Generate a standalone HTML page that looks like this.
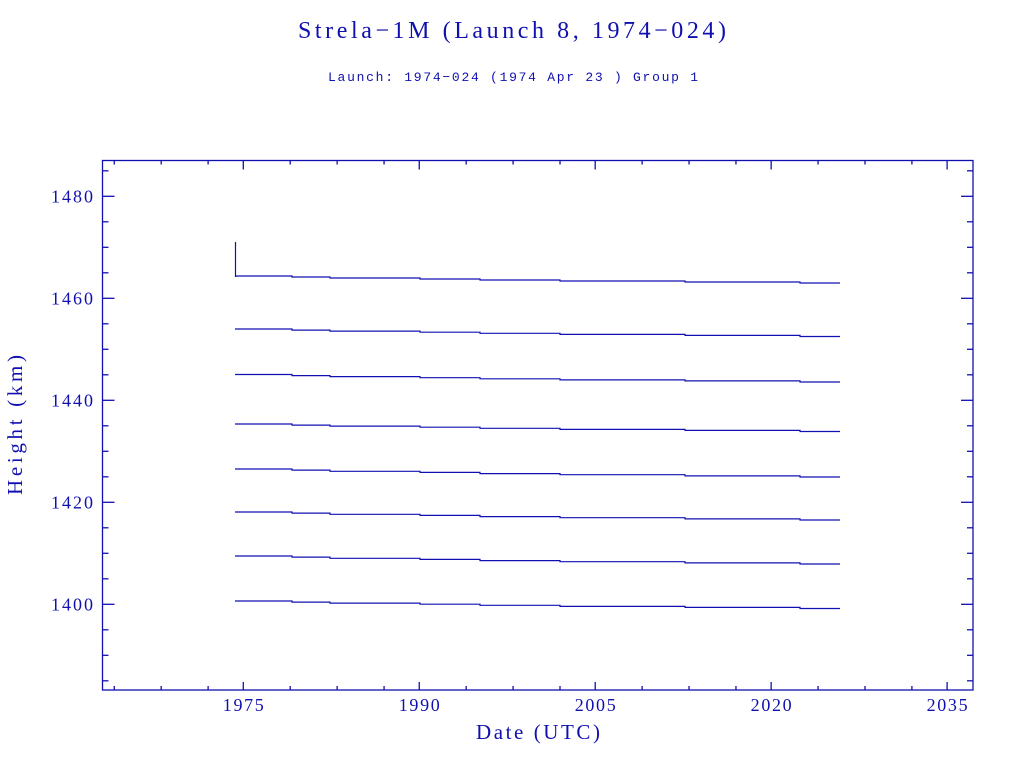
<!DOCTYPE html>
<html><head><meta charset="utf-8"><style>
body{margin:0;background:#fff;width:1024px;height:768px;overflow:hidden}
svg{display:block}
text{fill:#1010b0}
</style></head><body>
<svg id="s" width="1024" height="768" xmlns="http://www.w3.org/2000/svg">
<text x="512" y="38" text-anchor="middle" font-family="Liberation Serif, serif" font-size="24" textLength="428">Strela&#8722;1M (Launch 8, 1974&#8722;024)</text>
<text x="513" y="81" text-anchor="middle" font-family="Liberation Mono, monospace" font-size="13" textLength="370">Launch: 1974&#8722;024  (1974 Apr 23 )  Group 1</text>
<text x="538" y="739" text-anchor="middle" font-family="Liberation Serif, serif" font-size="21" textLength="124">Date (UTC)</text>
<text transform="translate(22,425) rotate(-90)" text-anchor="middle" font-family="Liberation Serif, serif" font-size="21" textLength="140">Height (km)</text>
<g id="ax" stroke="#1010b0" stroke-width="1.3" fill="none"></g>
<g id="tl" font-family="Liberation Serif, serif" font-size="18"></g>
<g id="dl" stroke="#1010b0" stroke-width="1.2" fill="none"></g>
</svg>
<script>
const NS="http://www.w3.org/2000/svg";
const ax=document.getElementById('ax'),tl=document.getElementById('tl'),dl=document.getElementById('dl');
function L(g,x1,y1,x2,y2){const e=document.createElementNS(NS,'line');e.setAttribute('x1',x1);e.setAttribute('y1',y1);e.setAttribute('x2',x2);e.setAttribute('y2',y2);g.appendChild(e);}
function T(x,y,s,a,w){const e=document.createElementNS(NS,'text');e.setAttribute('x',x);e.setAttribute('y',y);e.setAttribute('text-anchor',a);e.setAttribute('textLength',w);e.textContent=s;tl.appendChild(e);}
const X0=102.5,X1=973,Y0=160.5,Y1=690;
const r=document.createElementNS(NS,'rect');r.setAttribute('x',X0);r.setAttribute('y',Y0);r.setAttribute('width',X1-X0);r.setAttribute('height',Y1-Y0);ax.appendChild(r);
const xp=y=>243.3+(y-1975)*11.73;
const yp=h=>298.3+(1460-h)*5.1;
for(let M=1960;M<=2035;M+=15){
  if(M>=1975){const x=xp(M);L(ax,x,Y1,x,Y1-8);L(ax,x,Y0,x,Y0+9);T(x,711,String(M),'middle',41);}
  for(const k of [4,8,12]){const x=xp(M+k);if(x>X0&&x<X1){L(ax,x,Y1,x,Y1-4);L(ax,x,Y0,x,Y0+4);}}
}
for(let h=1385;h<=1485;h+=5){const y=yp(h);if(y<Y0||y>Y1)continue;
  const maj=h%20==0;L(ax,X0,y,X0+(maj?12:6),y);L(ax,X1,y,X1-(maj?12:6),y);
  if(maj)T(93,y+6,String(h),'end',42);}
const starts=[276,329,374.5,424,469,512,556,601],ends=[283,336.5,382,431.5,477,520,564,608.5];
const steps=[235,292,330,420,480,560,685,800,840];
for(let i=0;i<8;i++){let d='M'+steps[0]+' '+starts[i];
  for(let j=1;j<steps.length;j++){const yv=starts[i]+(ends[i]-starts[i])*(j-1)/(steps.length-2);
    d+=' L'+steps[j]+' '+yv.toFixed(1);if(j<steps.length-1)d+=' L'+steps[j]+' '+(starts[i]+(ends[i]-starts[i])*j/(steps.length-2)).toFixed(1);}
  const p=document.createElementNS(NS,'path');p.setAttribute('d',d);dl.appendChild(p);}
L(dl,235.5,242,235.5,277);
</script>
</body></html>
